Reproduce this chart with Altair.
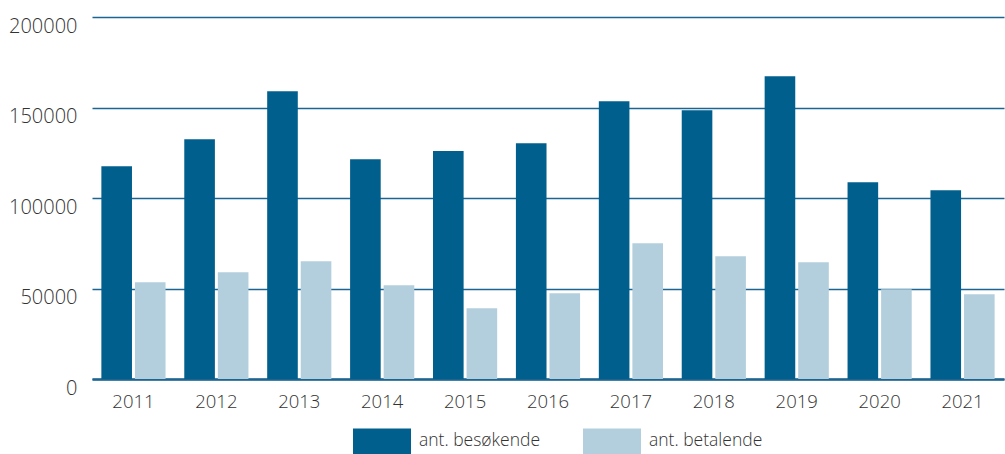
import altair as alt
import pandas as pd

years = ["2011", "2012", "2013", "2014", "2015", "2016", "2017", "2018", "2019", "2020", "2021"]
besokende = [117600, 132500, 159000, 121400, 125900, 130300, 153500, 148500, 167300, 108700, 104300]
betalende = [53500, 59000, 65100, 51800, 39100, 47400, 75000, 67800, 64500, 49600, 46800]
series = ["ant. besøkende", "ant. betalende"]
colors = ["#005f8c", "#b3cfdd"]

rows = []
for i, y in enumerate(years):
    rows.append({"year": y, "serie": series[0], "value": besokende[i]})
    rows.append({"year": y, "serie": series[1], "value": betalende[i]})
df = pd.DataFrame(rows)

FONT = "Open Sans"

chart = alt.Chart(df).mark_bar().encode(
    x=alt.X("year:N", sort=years,
            scale=alt.Scale(paddingInner=0.226, paddingOuter=0.113),
            axis=alt.Axis(title=None, labelAngle=0, ticks=False, domain=True,
                          domainColor="#1b6590", domainWidth=2.5,
                          labelPadding=13, labelFontSize=18.5, labelFont=FONT,
                          labelFontWeight=300,
                          labelColor="#333333", grid=False)),
    xOffset=alt.XOffset("serie:N", sort=series,
                        scale=alt.Scale(paddingInner=0.088, paddingOuter=0)),
    y=alt.Y("value:Q",
            scale=alt.Scale(domain=[0, 200000], nice=False),
            axis=alt.Axis(title=None, values=[0, 50000, 100000, 150000, 200000],
                          format="d", ticks=False, domain=False,
                          gridColor="#1b6590", gridWidth=1.5, gridOpacity=1,
                          labelPadding=15, labelFontSize=20, labelFont=FONT,
                          labelFontWeight=300,
                          labelColor="#333333", labelBaseline="top", labelOffset=-1)),
    color=alt.Color("serie:N", sort=series,
                    scale=alt.Scale(domain=series, range=colors),
                    legend=alt.Legend(title=None, orient="none", direction="horizontal",
                                      legendX=261, legendY=395,
                                      symbolType="M-1,-0.45H1V0.45H-1Z",
                                      symbolSize=3364, symbolStrokeWidth=0,
                                      symbolOpacity=1,
                                      labelFontSize=17.5, labelFont=FONT,
                                      labelFontWeight=300,
                                      labelColor="#333333", labelOffset=8,
                                      columnPadding=42)),
).properties(
    width=912, height=362,
    autosize=alt.AutoSizeParams(type="none"),
    padding={"left": 92, "top": 17, "right": 1, "bottom": 75},
).configure_view(stroke=None)

chart.save("out.html", embed_options={"renderer": "svg", "actions": False})
